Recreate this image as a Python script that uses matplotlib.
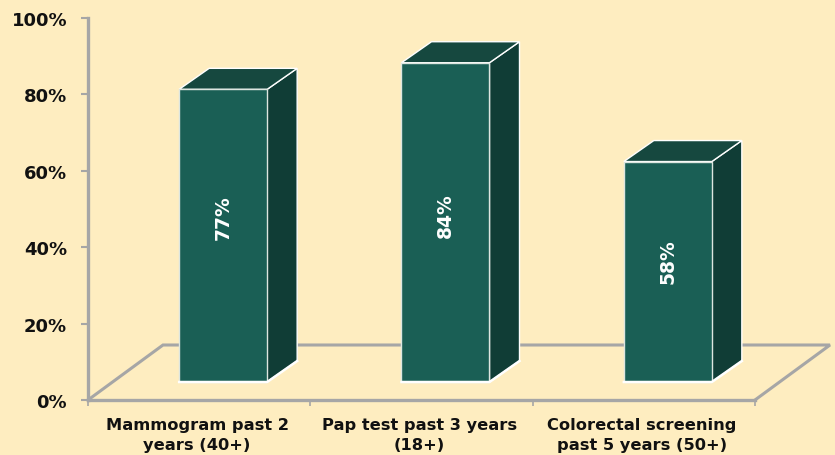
import matplotlib
matplotlib.use("Agg")
from matplotlib import pyplot as plt
from matplotlib.patches import Polygon

categories = ["Mammogram past 2\nyears (40+)", "Pap test past 3 years\n(18+)", "Colorectal screening\npast 5 years (50+)"]
values = [77, 84, 58]
y_ticks = [0, 20, 40, 60, 80, 100]

plt.rcParams["font.family"] = ["DejaVu Sans"]

W, H = 835, 456
bg = "#FEEDC0"
axis_gray = "#A6A6A6"
front = "#1A5F55"
side = "#103D36"
top = "#16483F"

fig = plt.figure(figsize=(W / 100, H / 100), dpi=100, facecolor=bg)
ax = fig.add_axes([88 / W, (H - 401) / H, (755 - 88) / W, (401 - 19) / H])
ax.set_facecolor("none")
ax.set_xlim(0, 3)
ax.set_ylim(0, 100)

# pixel sizes to data units
px_x = 3 / (755 - 88)
px_y = 100 / (401 - 19)

# floor: back edge and the two slanted sides
fx, fy = 75 * px_x, 55 * px_y
ax.plot([0, fx, 3 + fx, 3], [0, fy, fy, 0], color=axis_gray, lw=2.2, clip_on=False, zorder=1, solid_joinstyle="miter")

# bars sit on the floor, shifted in and drawn with a fake 3d box
off_x, off_y = 24 * px_x, 18 * px_y
bar_w = 88 * px_x
dx, dy = 30 * px_x, 21 * px_y
label_shift = [19, 8, 11]  # the % labels are not quite centered on the bars
for i, v in enumerate(values):
    h = v * 0.995
    x0 = i + 0.5 - bar_w / 2 + off_x
    x1 = x0 + bar_w
    y0 = off_y
    y1 = off_y + h
    ax.add_patch(Polygon([(x1, y0), (x1 + dx, y0 + dy), (x1 + dx, y1 + dy), (x1, y1)], closed=True,
                         facecolor=side, edgecolor="white", lw=1.0, clip_on=False, zorder=3))
    ax.add_patch(Polygon([(x0, y1), (x0 + dx, y1 + dy), (x1 + dx, y1 + dy), (x1, y1)], closed=True,
                         facecolor=top, edgecolor="white", lw=1.0, clip_on=False, zorder=3))
    ax.bar(x0, h, width=bar_w, bottom=y0, align="edge", color=front, edgecolor="#DDE6E0", lw=1.0, zorder=4, clip_on=False)
    # thicker white along the bottom of the box
    ax.plot([x0, x1, x1 + dx], [y0, y0, y0 + dy], color="white", lw=1.8, zorder=5, clip_on=False)
    ax.text((x0 + x1) / 2, y0 + h / 2 + label_shift[i] * px_y, "%d%%" % v, color="white", fontsize=13.5, fontweight="bold",
            rotation=90, ha="center", va="center", zorder=6)

ax.spines["top"].set_visible(False)
ax.spines["right"].set_visible(False)
for s in ["left", "bottom"]:
    ax.spines[s].set_color(axis_gray)
    ax.spines[s].set_linewidth(2.4)

ax.set_yticks(y_ticks)
ax.set_yticklabels(["%d%%" % t for t in y_ticks], fontsize=13, fontweight="bold", color="#111111")
ax.tick_params(axis="y", length=5, width=1.5, color=axis_gray, pad=10)

# ticks between groups, labels centered on groups
ax.set_xticks([0, 1, 2, 3])
ax.set_xticklabels([])
ax.tick_params(axis="x", length=4, width=1.2, color=axis_gray)
for i, c in enumerate(categories):
    ax.text(i + 0.5 - 2 * px_x, -4.4, c, ha="center", va="top", fontsize=11.7, fontweight="bold", color="#111111", linespacing=1.4, clip_on=False)

fig.savefig("out.png", dpi=100, facecolor=bg)
